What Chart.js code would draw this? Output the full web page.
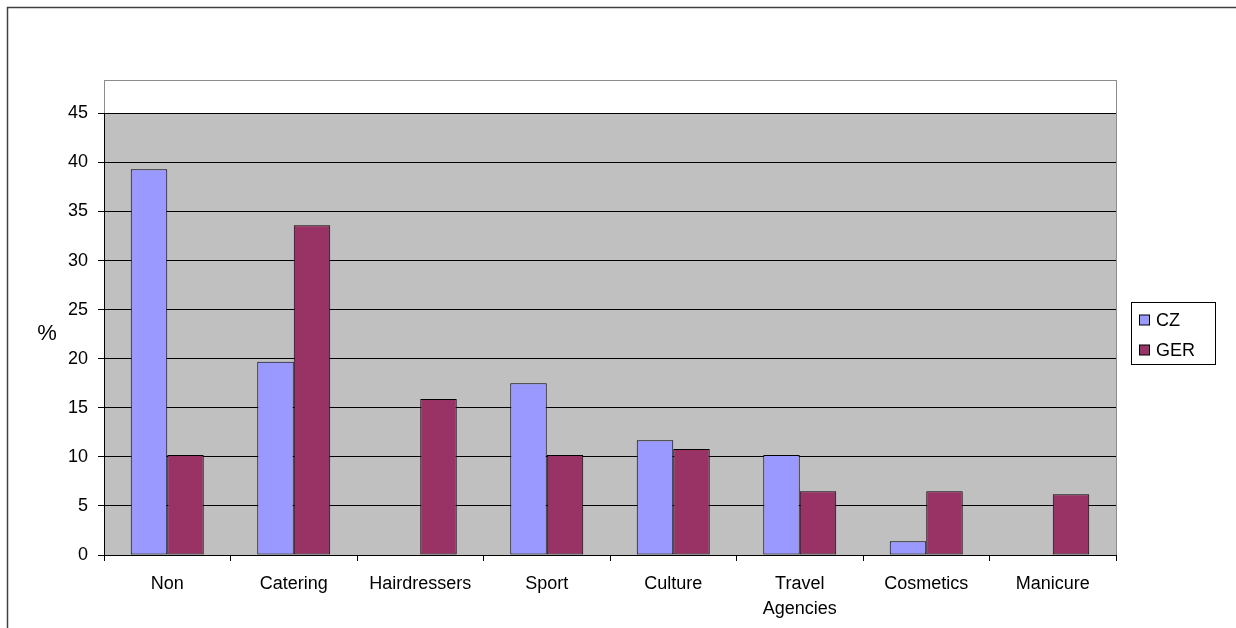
<!DOCTYPE html>
<html>
<head>
<meta charset="utf-8">
<script src="https://cdn.jsdelivr.net/npm/chart.js@4/dist/chart.umd.min.js"></script>
<style>
html,body{margin:0;padding:0;background:#fff;}
#wrap{position:relative;width:1236px;height:628px;}
canvas{display:block;}
</style>
</head>
<body>
<div id="wrap"><canvas id="c" width="1236" height="628"></canvas></div>
<script>
const categories = ["Non", "Catering", "Hairdressers", "Sport", "Culture", ["Travel", "Agencies"], "Cosmetics", "Manicure"];
const seriesNames = ["CZ", "GER"];
const czValues = [39.3, 19.7, 0, 17.5, 11.7, 10.2, 1.4, 0];
const gerValues = [10.2, 33.6, 15.9, 10.2, 10.8, 6.5, 6.5, 6.2];
const yTickMax = 45;
const yTickStep = 5;
const yAxisTop = 48.4;
const axisLabel = "%";

const FONT = "'Liberation Sans', Arial, sans-serif";
const colors = ["#9999FF", "#993366"];

const decor = {
  id: 'decor',
  beforeDraw(chart) {
    const ctx = chart.ctx, a = chart.chartArea, y = chart.scales.y;
    ctx.save();
    ctx.fillStyle = '#fff';
    ctx.fillRect(0, 0, chart.width, chart.height);
    // outer frame
    ctx.strokeStyle = '#404040';
    ctx.lineWidth = 1.5;
    ctx.beginPath();
    ctx.moveTo(7.5, chart.height + 5);
    ctx.lineTo(7.5, 7.5);
    ctx.lineTo(chart.width + 5, 7.5);
    ctx.stroke();
    // gray plot fill
    const yTop = y.getPixelForValue(yTickMax), yBot = y.getPixelForValue(0);
    ctx.fillStyle = '#C0C0C0';
    ctx.fillRect(a.left, yTop, a.right - a.left, yBot - yTop);
    // plot area border
    ctx.strokeStyle = '#8c8c8c';
    ctx.lineWidth = 1;
    ctx.strokeRect(Math.round(a.left) + 0.5, Math.round(a.top) + 0.5, Math.round(a.right - a.left), Math.round(a.bottom - a.top));
    ctx.restore();
  },
  afterDatasetsDraw(chart) {
    const ctx = chart.ctx, a = chart.chartArea, y = chart.scales.y;
    ctx.save();
    const yTop = y.getPixelForValue(yTickMax), yBot = y.getPixelForValue(0);
    ctx.strokeStyle = '#000';
    ctx.lineWidth = 1;
    ctx.beginPath();
    ctx.moveTo(Math.round(a.left) + 0.5, yTop);
    ctx.lineTo(Math.round(a.left) + 0.5, yBot + 6);
    ctx.stroke();
    // % label
    ctx.fillStyle = '#000';
    ctx.font = '22px ' + FONT;
    ctx.textAlign = 'center';
    ctx.textBaseline = 'middle';
    ctx.fillText(axisLabel, 47, 334);
    // legend
    const lx = Math.round(a.right) + 15.5, ly = 302.5, lw = 84, lh = 62;
    ctx.strokeStyle = '#000';
    ctx.strokeRect(lx, ly, lw, lh);
    ctx.font = '18px ' + FONT;
    ctx.textAlign = 'left';
    chart.data.datasets.forEach((ds, i) => {
      const cy = ly + 17.5 + i * 30;
      ctx.fillStyle = ds.backgroundColor;
      ctx.fillRect(lx + 8, cy - 5, 10, 10);
      ctx.strokeRect(lx + 8, cy - 5, 10, 10);
      ctx.fillStyle = '#000';
      ctx.fillText(ds.label, lx + 24.5, cy + 1);
    });
    ctx.restore();
  }
};

new Chart(document.getElementById('c'), {
  type: 'bar',
  data: {
    labels: categories,
    datasets: [
      { label: seriesNames[0], data: czValues, backgroundColor: colors[0], borderColor: '#000', borderWidth: 1, borderSkipped: false },
      { label: seriesNames[1], data: gerValues, backgroundColor: colors[1], borderColor: '#000', borderWidth: 1, borderSkipped: false }
    ]
  },
  options: {
    responsive: false,
    animation: false,
    devicePixelRatio: 1,
    layout: { padding: { left: 0, top: 80, right: 120, bottom: 0 } },
    plugins: { legend: { display: false }, tooltip: { enabled: false }, title: { display: false } },
    datasets: { bar: { barPercentage: 1, categoryPercentage: 0.577 } },
    scales: {
      x: {
        offset: true,
        grid: { display: true, drawOnChartArea: false, drawTicks: true, tickLength: 6, color: '#000', offset: true },
        border: { display: true, color: '#000', width: 1 },
        ticks: { color: '#000', font: { family: FONT, size: 18, lineHeight: 1.4 }, padding: 10, maxRotation: 0, autoSkip: false },
        afterFit(s) { s.height = 73; }
      },
      y: {
        min: 0,
        max: yAxisTop,
        grid: { color: '#000', lineWidth: 1, tickLength: 6, drawTicks: true },
        border: { display: false },
        ticks: { stepSize: yTickStep, color: '#000', font: { family: FONT, size: 18 }, padding: 10 },
        afterBuildTicks(s) { s.ticks = s.ticks.filter(t => t.value <= yTickMax + 1e-9 && Math.abs(t.value / yTickStep - Math.round(t.value / yTickStep)) < 1e-9); },
        afterFit(s) { s.width = 104; }
      }
    }
  },
  plugins: [decor]
});
</script>
</body>
</html>
